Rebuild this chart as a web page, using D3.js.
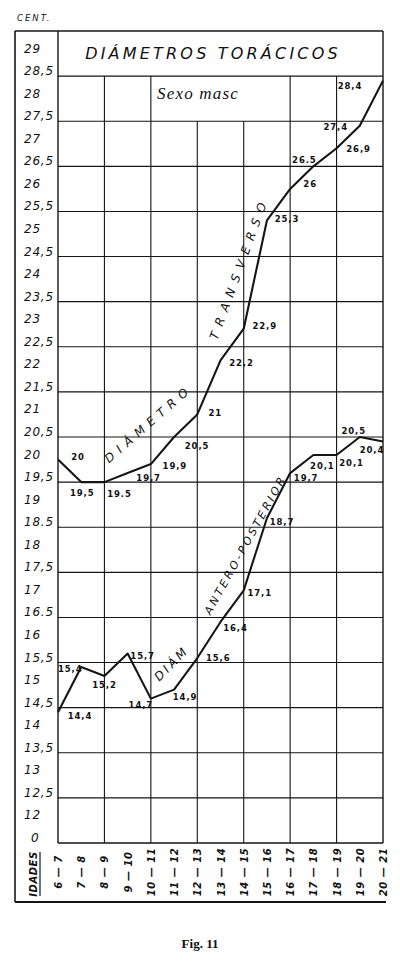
<!DOCTYPE html>
<html>
<head>
<meta charset="utf-8">
<script src="https://cdn.jsdelivr.net/npm/d3@7"></script>
<style>
  html, body { margin: 0; padding: 0; background: #fff; }
  svg { display: block; }
  text { fill: #111; }
</style>
</head>
<body>
<script>
// ---- data ----
const ageGroups = ["6 — 7","7 — 8","8 — 9","9 — 10","10 — 11","11 — 12","12 — 13","13 — 14",
                   "14 — 15","15 — 16","16 — 17","17 — 18","18 — 19","19 — 20","20 — 21"];
const transverso = [20, 19.5, 19.5, 19.7, 19.9, 20.5, 21, 22.2, 22.9, 25.3, 26, 26.5, 26.9, 27.4, 28.4];
const transversoLabels = ["20","19,5","19.5","19,7","19,9","20,5","21","22,2","22,9","25,3","26","26.5","26,9","27,4","28,4"];
const anteroPosterior = [14.4, 15.4, 15.2, 15.7, 14.7, 14.9, 15.6, 16.4, 17.1, 18.7, 19.7, 20.1, 20.1, 20.5, 20.4];
const anteroLabels = ["14,4","15,4","15,2","15,7","14,7","14,9","15,6","16,4","17,1","18,7","19,7","20,1","20,1","20,5","20,4"];
const yTickValues = [29,28.5,28,27.5,27,26.5,26,25.5,25,24.5,24,23.5,23,22.5,22,21.5,21,20.5,20,19.5,19,18.5,18,17.5,17,16.5,16,15.5,15,14.5,14,13.5,13,12.5,12,11.5];
const yTickLabels = ["29","28,5","28","27,5","27","26,5","26","25,5","25","24,5","24","23,5","23","22,5","22","21,5","21","20,5","20","19,5","19","18.5","18","17,5","17","16.5","16","15,5","15","14,5","14","13,5","13","12,5","12","0"];
const gridLevels = [27.5,26.5,25.5,24.5,23.5,22.5,21.5,20.5,19.5,18.5,17.5,16.5,15.5,14.5,13.5,12.5];

// ---- layout ----
const W = 400, H = 962;
const x = d3.scaleLinear().domain([0, 14]).range([58, 383]);
const y = d3.scaleLinear().domain([11.5, 29.5]).range([843, 31]);

const svg = d3.select("body").append("svg").attr("width", W).attr("height", H);
svg.append("rect").attr("width", W).attr("height", H).attr("fill", "#fff");

const ink = "#151515";
const hand = "'DejaVu Sans', sans-serif";

// frame
const g = svg.append("g").attr("stroke", ink).attr("fill", "none");
g.append("line").attr("x1", 15).attr("x2", 15).attr("y1", y(29.5)).attr("y2", 902).attr("stroke-width", 1.6);
g.append("line").attr("x1", 15).attr("x2", x(14)).attr("y1", y(29.5)).attr("y2", y(29.5)).attr("stroke-width", 1.4);
g.append("line").attr("x1", x(0)).attr("x2", x(0)).attr("y1", y(29.5)).attr("y2", y(11.5)).attr("stroke-width", 1.4);
g.append("line").attr("x1", x(14)).attr("x2", x(14)).attr("y1", y(29.5)).attr("y2", y(11.5)).attr("stroke-width", 1.4);
g.append("line").attr("x1", x(0)).attr("x2", x(14)).attr("y1", y(28.5)).attr("y2", y(28.5)).attr("stroke-width", 1.3);
g.append("line").attr("x1", x(0)).attr("x2", x(14)).attr("y1", y(11.5)).attr("y2", y(11.5)).attr("stroke-width", 1.4);
g.append("line").attr("x1", 15).attr("x2", 386).attr("y1", 902).attr("y2", 902).attr("stroke-width", 2);

// horizontal grid
g.selectAll("line.h").data(gridLevels).join("line").attr("class", "h")
  .attr("x1", x(0)).attr("x2", x(14)).attr("y1", d => y(d)).attr("y2", d => y(d))
  .attr("stroke-width", 1.1);

// vertical grid
const vIdx = [2,4,6,8,10,12];
g.selectAll("line.v").data(vIdx).join("line").attr("class", "v")
  .attr("x1", d => x(d)).attr("x2", d => x(d))
  .attr("y1", d => (d === 6 || d === 8) ? y(27.5) : y(28.5))
  .attr("y2", y(11.5)).attr("stroke-width", 1.1);

// y tick labels
svg.append("g").selectAll("text").data(yTickValues).join("text")
  .attr("x", (d, i) => yTickLabels[i] === "0" ? 31 : 24)
  .attr("y", d => y(d) - 1)
  .attr("font-family", hand).attr("font-style", "italic").attr("font-size", 12)
  .attr("letter-spacing", 0.8)
  .text((d, i) => yTickLabels[i]);

// x (age) labels
svg.append("g").selectAll("text").data(ageGroups).join("text")
  .attr("transform", (d, i) => `translate(${x(i) + 4},872) rotate(-90)`)
  .attr("text-anchor", "middle")
  .attr("font-family", hand).attr("font-style", "italic").attr("font-weight", "bold")
  .attr("font-size", 10).attr("letter-spacing", 0.5)
  .text(d => d);

svg.append("text").attr("transform", "translate(37,874) rotate(-90)")
  .attr("text-anchor", "middle").attr("font-family", hand).attr("font-style", "italic")
  .attr("font-weight", "bold").attr("font-size", 10).attr("letter-spacing", 0.6).text("IDADES");
g.append("line").attr("x1", 40).attr("x2", 40).attr("y1", 852).attr("y2", 896).attr("stroke-width", 1.2);

// titles
svg.append("text").attr("x", 17).attr("y", 21).attr("font-family", hand).attr("font-style", "italic")
  .attr("font-size", 8.5).attr("letter-spacing", 2).text("CENT.");
svg.append("text").attr("x", 213).attr("y", 59).attr("text-anchor", "middle")
  .attr("font-family", hand).attr("font-style", "italic").attr("font-size", 16)
  .attr("letter-spacing", 3.2).text("DIÁMETROS TORÁCICOS");
svg.append("text").attr("x", 198).attr("y", 99).attr("text-anchor", "middle")
  .attr("font-family", "'Liberation Serif', serif").attr("font-style", "italic").attr("font-size", 17)
  .attr("letter-spacing", 1.2).text("Sexo masc");
svg.append("text").attr("x", 200).attr("y", 948).attr("text-anchor", "middle")
  .attr("font-family", "'Liberation Serif', serif").attr("font-weight", "bold").attr("font-size", 13)
  .text("Fig. 11");

// lines
const line = d3.line().x((d, i) => x(i)).y(d => y(d));
svg.append("path").datum(transverso).attr("d", line).attr("fill", "none")
  .attr("stroke", ink).attr("stroke-width", 2.1).attr("stroke-linejoin", "round");
svg.append("path").datum(anteroPosterior).attr("d", line).attr("fill", "none")
  .attr("stroke", ink).attr("stroke-width", 2.1).attr("stroke-linejoin", "round");

// value labels (offsets relative to each point)
const tOff = [[20,-3],[1,10],[15,11],[21,4],[24,1],[23,8],[18,-2],[21,2],[21,-3],[20,-2],[20,-5],[-9,-7],[22,0],[-24,1],[-33,5]];
const aOff = [[22,3],[-11,1],[0,8],[15,2],[-10,6],[11,7],[21,-1],[15,6],[16,2],[15,3],[16,4],[9,10],[15,7],[-6,-7],[-11,8]];
function valueLabels(vals, labels, off) {
  svg.append("g").selectAll("text").data(vals).join("text")
    .attr("x", (d, i) => x(i) + off[i][0])
    .attr("y", (d, i) => y(d) + off[i][1] + 3.5)
    .attr("text-anchor", "middle")
    .attr("font-family", hand).attr("font-weight", "bold").attr("font-size", 8.5)
    .attr("letter-spacing", 0.9)
    .text((d, i) => labels[i]);
}
valueLabels(transverso, transversoLabels, tOff);
valueLabels(anteroPosterior, anteroLabels, aOff);

// series names along the lines
function along(txt, cx, cy, ang, size, ls) {
  svg.append("text").attr("transform", `translate(${cx},${cy}) rotate(${ang})`)
    .attr("text-anchor", "middle").attr("dominant-baseline", "middle")
    .attr("font-family", hand).attr("font-style", "italic").attr("font-size", size)
    .attr("letter-spacing", ls).text(txt);
}
along("DIÁMETRO", 149, 424, -41, 12, 6);
along("TRANSVERSO", 240, 268, -70, 12, 7);
along("DIÁM", 172, 664, -45, 12, 3);
along("ANTERO-POSTERIOR", 246, 545, -61, 11, 2.8);
</script>
</body>
</html>
